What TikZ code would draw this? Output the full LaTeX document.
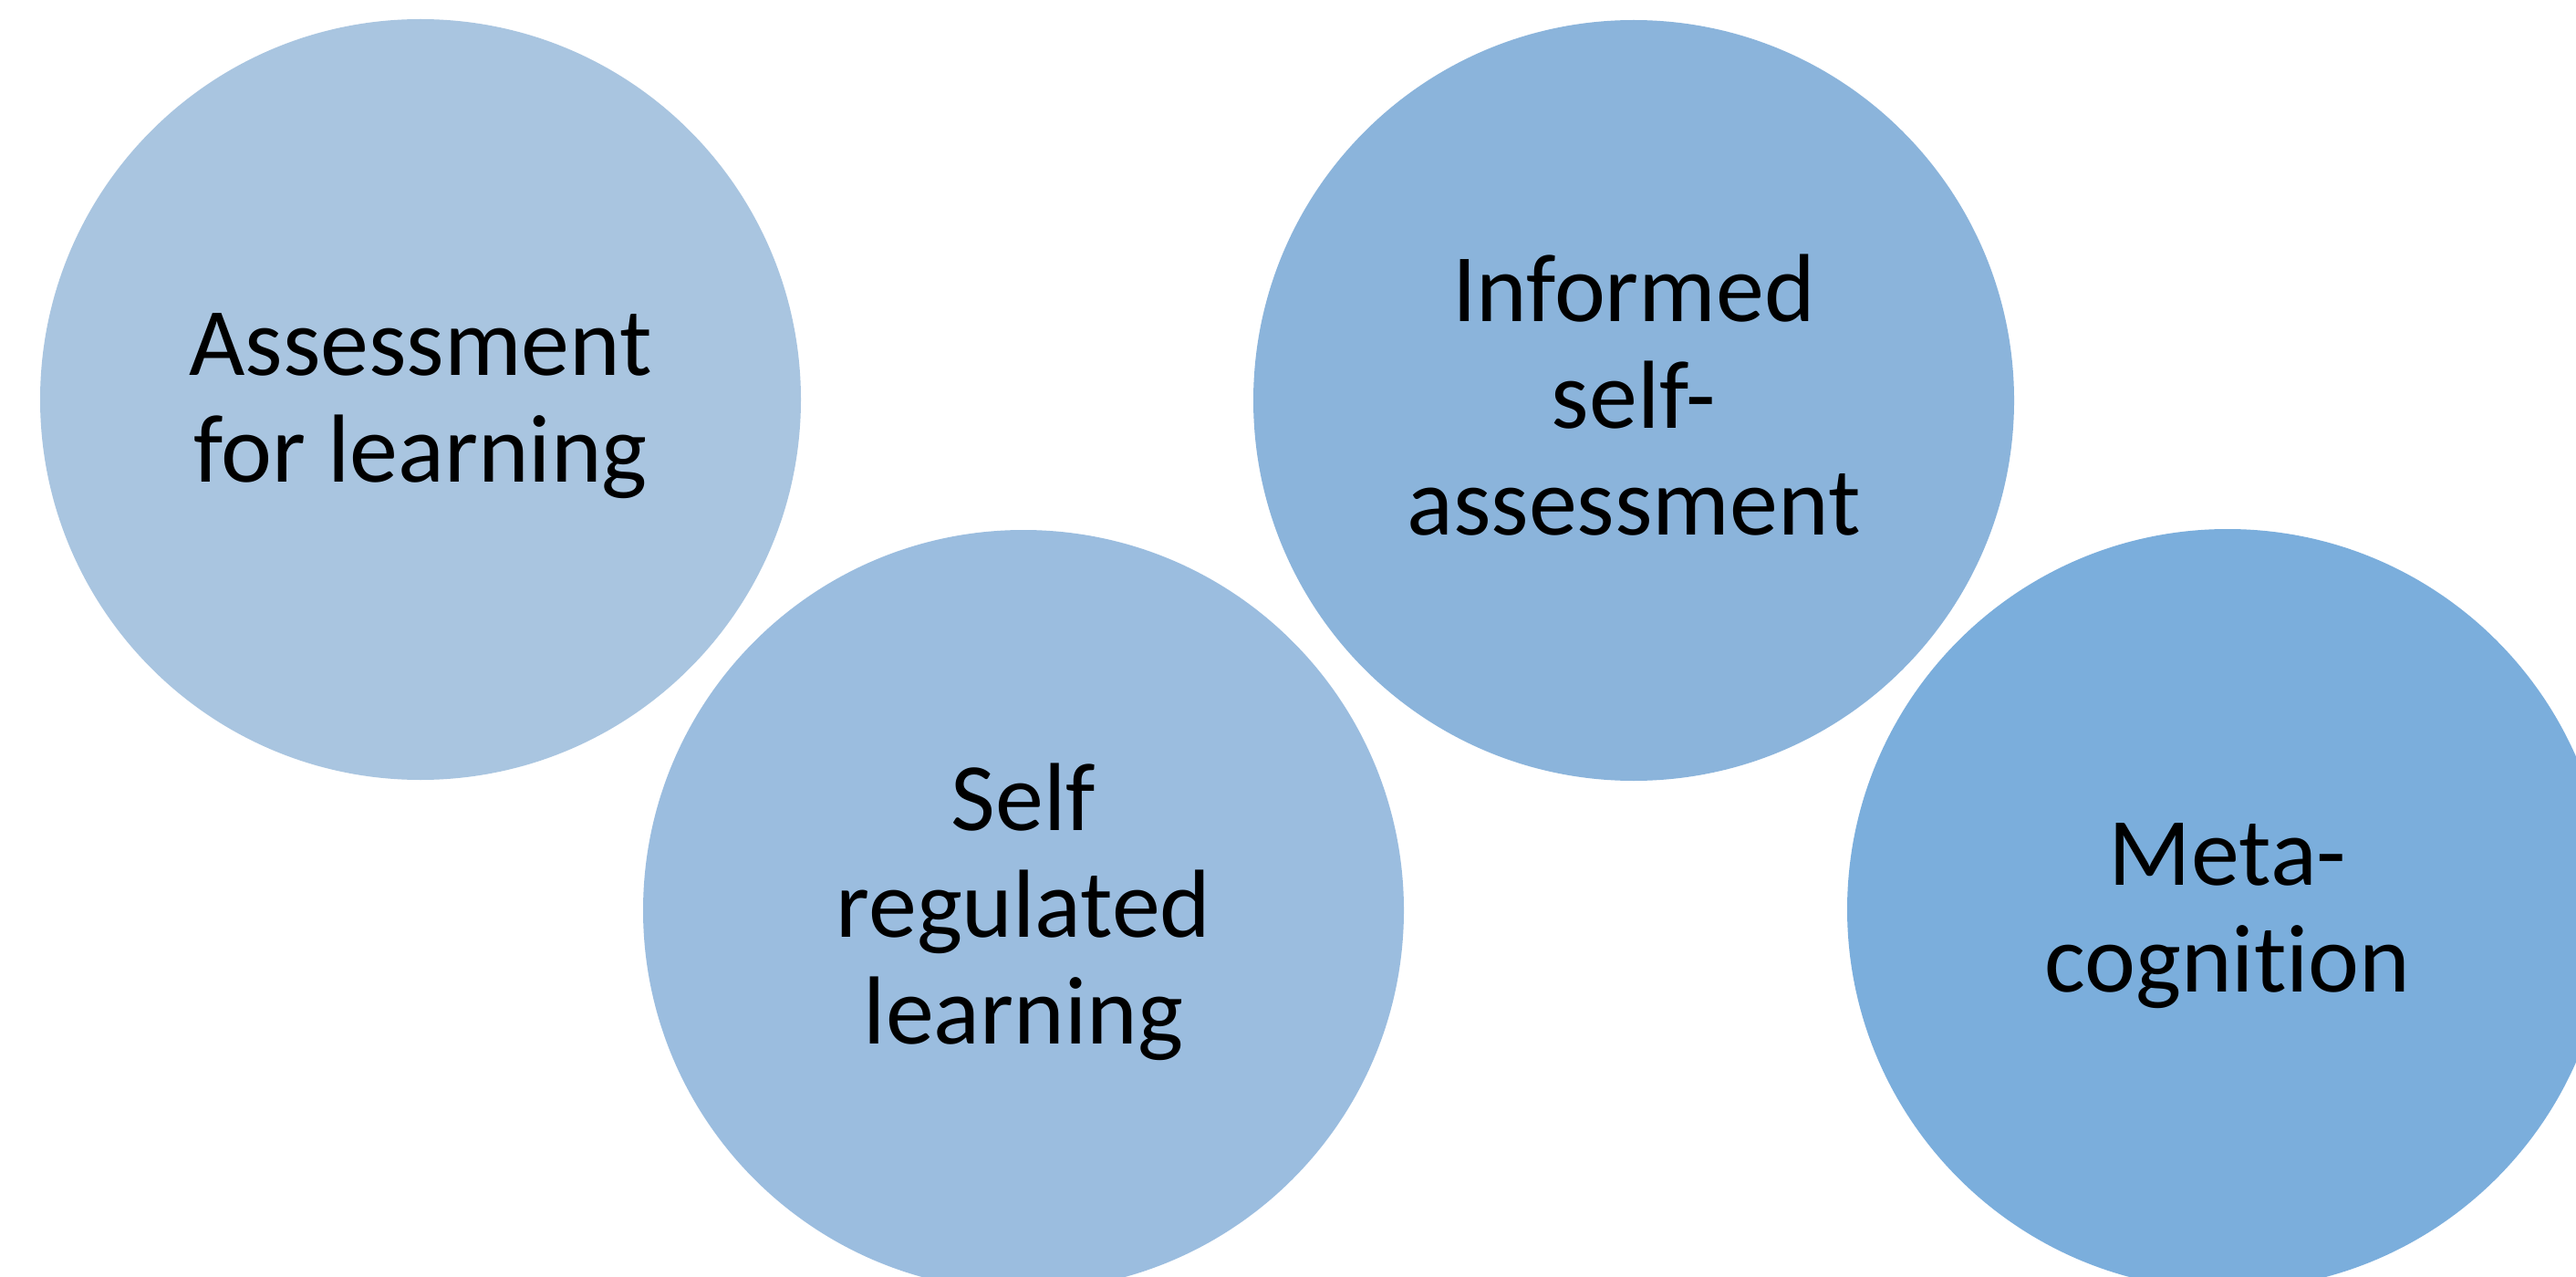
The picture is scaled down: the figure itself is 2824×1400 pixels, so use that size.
\documentclass[tikz,border=0pt]{standalone}
\usepackage{fontspec}
\setmainfont{Carlito}[Ligatures=NoCommon]

\definecolor{bubbleA}{RGB}{169,197,224}
\definecolor{bubbleB}{RGB}{155,189,223}
\definecolor{bubbleC}{RGB}{139,180,219}
\definecolor{bubbleD}{RGB}{123,174,220}

\tikzset{
  bubble/.style={circle, minimum size=208.5pt, inner sep=0pt, draw=none},
  bubbletext/.style={align=center, inner sep=0pt, font=\fontsize{26.5}{29.25}\selectfont}
}

\begin{document}
\begin{tikzpicture}[x=0.25pt,y=0.25pt,yscale=-1,xscale=1]

\clip (0,0) rectangle (2824,1400);
\fill[white] (0,0) rectangle (2824,1400);

\node[bubble, fill=bubbleA] (afl) at (461,438) {};
\node[bubble, fill=bubbleB] (srl) at (1122,998) {};
\node[bubble, fill=bubbleC] (isa) at (1791,439) {};
\node[bubble, fill=bubbleD] (meta) at (2442,997) {};

\node[bubbletext] (afl text) at (461,445) {Assessment\\for learning};
\node[bubbletext] (srl text) at (1122,1000) {Self\\regulated\\learning};
\node[bubbletext] (isa text) at (1791,433) {Informed\\self-\\assessment};
\node[bubbletext] (meta text) at (2442,1004) {Meta-\\cognition};

\end{tikzpicture}
\end{document}
